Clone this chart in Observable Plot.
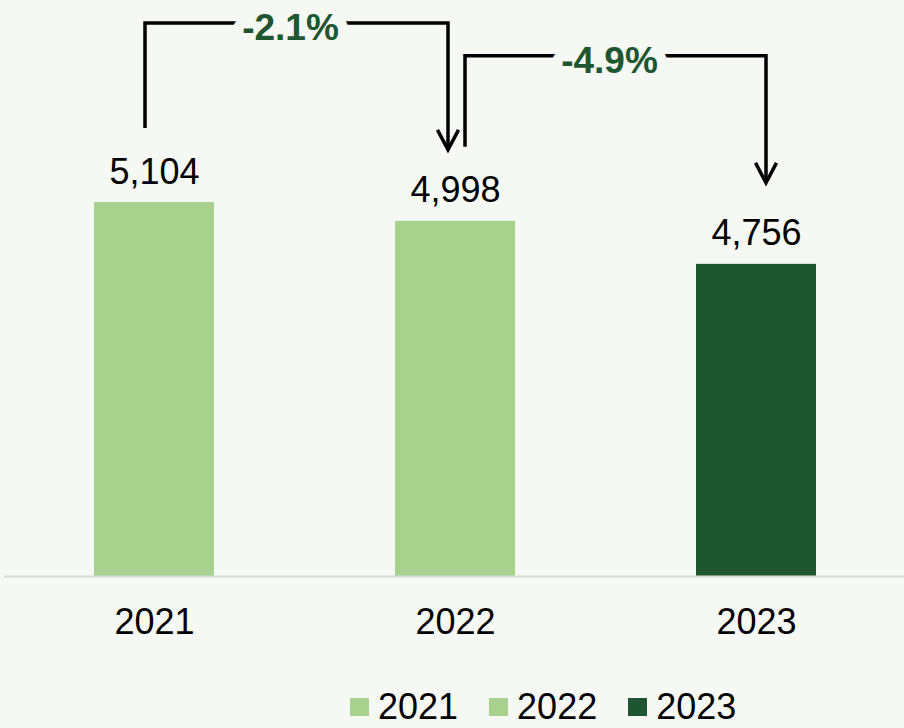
<!DOCTYPE html>
<html><head><meta charset="utf-8">
<script src="https://cdn.jsdelivr.net/npm/d3@7"></script>
<script src="https://cdn.jsdelivr.net/npm/@observablehq/plot@0.6"></script>
<style>
html,body{margin:0;padding:0;background:#f6f8f3;}
body{width:904px;height:728px;overflow:hidden;font-family:"Liberation Sans",Arial,sans-serif;}
#legend{display:flex;align-items:center;padding-left:350px;height:42px;margin-top:14px;}
.item{display:flex;align-items:center;margin-right:31px;font-size:36px;color:#000;line-height:1;}
.sw{width:19px;height:18px;margin-right:9px;}
</style></head><body><div id="chart"></div><div id="legend"></div>
<script>
// ---- data ----
const years = ["2021", "2022", "2023"];
const values = [5104, 4998, 4756];
const colors = ["#a9d18e", "#a9d18e", "#1e5631"];
const changeFrom = ["2021", "2022"];
const changeTo = ["2022", "2023"];
const changeLabels = ["-2.1%", "-4.9%"];
const yBase = 3000;

const data = years.map((y, i) => ({year: y, value: values[i]}));

// arrow geometry (pixel offsets relative to bar centers / bar tops)
const geom = [
  {x0: -9, x1: -7, start: -74, top: -179, tip: -71},
  {x0: 10, x1: 10, start: -74, top: -165, tip: -81}
];
const BG = "#f6f8f3";
const DARK = "#1e5631";

function arrows(index, scales) {
  const x = scales.x, y = scales.y;
  const bw = x.bandwidth ? x.bandwidth() : 0;
  const cx = k => x(k) + bw / 2;
  const val = k => values[years.indexOf(k)];
  const g = d3.create("svg:g");
  changeFrom.forEach((f, i) => {
    const t = changeTo[i], G = geom[i];
    const xa = cx(f) + G.x0, xb = cx(t) + G.x1;
    const ya = y(val(f)) + G.start, yt = y(val(f)) + G.top, yb = y(val(t)) + G.tip;
    g.append("path")
      .attr("d", `M${xa},${ya}V${yt}H${xb}V${yb}`)
      .attr("fill", "none").attr("stroke", "#000").attr("stroke-width", 3.5);
    g.append("path")
      .attr("d", `M${xb - 10.5},${yb - 20}L${xb},${yb}L${xb + 10.5},${yb - 20}`)
      .attr("fill", "none").attr("stroke", "#000").attr("stroke-width", 3.5);
    g.append("text")
      .attr("x", (xa + xb) / 2 - 6).attr("y", yt + 17)
      .attr("text-anchor", "middle")
      .attr("font-size", 37).attr("font-weight", "bold")
      .attr("fill", DARK)
      .attr("stroke", BG).attr("stroke-width", 21)
      .attr("stroke-linejoin", "round").attr("paint-order", "stroke")
      .text(changeLabels[i]);
  });
  return g.node();
}

const chart = Plot.plot({
  width: 904,
  height: 672,
  marginTop: 202,
  marginBottom: 96,
  marginLeft: 4,
  marginRight: 0,
  style: {background: BG, fontFamily: "Liberation Sans, Arial, sans-serif", color: "#000", overflow: "visible"},
  x: {domain: years, range: [4, 907], paddingInner: 0.6, paddingOuter: 0.3, axis: null},
  y: {domain: [yBase, d3.max(values)], axis: null},
  color: {domain: years, range: colors},
  marks: [
    Plot.barY(data, {x: "year", y1: yBase, y2: "value", fill: "year"}),
    Plot.ruleY([yBase], {stroke: "#d9d9d9", strokeWidth: 2}),
    Plot.text(data, {x: "year", y: "value", text: d => d3.format(",")(d.value), dy: -19, lineAnchor: "bottom", fontSize: 36, fill: "#000"}),
    Plot.axisX({tickSize: 0, tickPadding: 32, fontSize: 36, fill: "#000", label: null}),
    arrows
  ]
});
document.getElementById("chart").appendChild(chart);

const legend = d3.select("#legend");
years.forEach((y, i) => {
  const it = legend.append("div").attr("class", "item");
  it.append("div").attr("class", "sw").style("background", colors[i]);
  it.append("span").text(y);
});
</script>
</body></html>
